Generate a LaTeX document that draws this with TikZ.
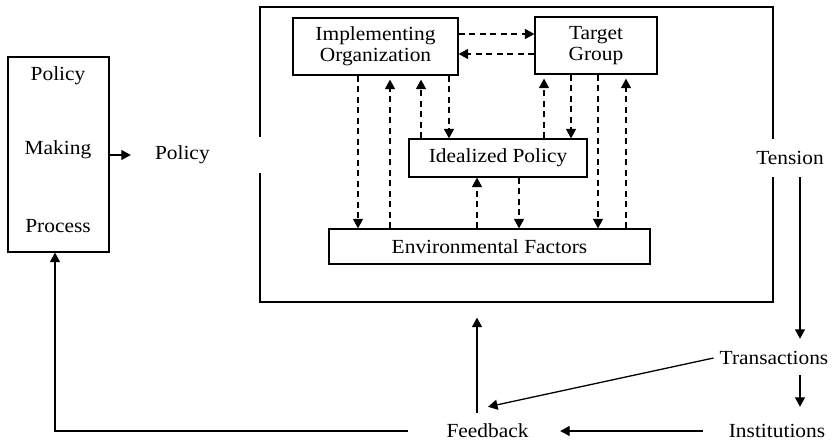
\documentclass[tikz,border=0pt]{standalone}
\usepackage{fontspec}
\setmainfont{Liberation Serif}[FakeStretch=1.07]
\usetikzlibrary{arrows.meta}

\begin{document}
\begin{tikzpicture}[x=1pt,y=-1pt,
  every node/.style={font=\fontsize{20}{21}\selectfont},
  box/.style={draw, line width=1.2pt, inner sep=0pt, align=center},
  gap/.style={fill=white, inner sep=0pt},
  link/.style={line width=1.3pt, -{Triangle[length=9.5pt,width=10pt]}},
  dlink/.style={link, dash pattern=on 6pt off 4.5pt},
]
\useasboundingbox (0,0) rectangle (832,443);

% outer frame of the implementation process
\node[box, minimum width=513pt, minimum height=295pt] (frame) at (516.5,154.5) {};

% policy making process
\node[box, minimum width=101pt, minimum height=195pt] (ppm) at (58.5,154.5) {};
\node (ppm1) at (58,76) {Policy};
\node (ppm2) at (58,150) {Making};
\node (ppm3) at (58,226) {Process};

% labels that break the frame
\node[gap, minimum height=36pt, text width=124pt, align=left] (pol) at (200,155) {\hspace*{17pt}Policy};
\node[gap, minimum width=76pt, minimum height=38pt] (ten) at (790,158) {Tension};

% inner boxes
\node[box, minimum width=165pt, minimum height=57pt] (io) at (375.5,46.5) {Implementing\\Organization};
\node[box, minimum width=122pt, minimum height=57pt] (tg) at (596,45.5) {Target\\Group};
\node[box, minimum width=178pt, minimum height=38pt] (ip) at (498,158) {Idealized Policy};
\node[box, minimum width=321pt, minimum height=35pt] (ef) at (489.5,246.5) {Environmental Factors};

% lower loop
\node[gap, inner xsep=6pt, minimum height=34pt] (trn) at (774,358) {Transactions};
\node[inner sep=0pt, minimum height=44pt] (ins) at (777,431) {Institutions};
\node[gap, minimum width=145pt, minimum height=36pt] (fb) at (487.5,431) {Feedback};

% solid connectors
\draw[link, shorten >=7pt] (ppm.east |- pol.west) -- (pol.west);
\draw[link, shorten >=2pt] ([xshift=10pt]ten.south) -- ([xshift=10pt]ten.south |- trn.north);
\draw[link, shorten >=2pt] ([xshift=26pt]trn.south) -- ([xshift=26pt]trn.south |- ins.north);
\draw[link, shorten <=26pt] (ins.west) -- (fb.east);
\draw[link] (trn.west) -- ([xshift=0.5pt,yshift=6pt]fb.north);
\draw[link, shorten >=15pt] ([xshift=-10.5pt]fb.north) -- ([xshift=-10.5pt]fb.north |- frame.south);
\draw[link, shorten <=7pt] (fb.west) -| ([xshift=-3.5pt]ppm.south);

% dashed links between organization and target group
\draw[dlink] ([yshift=12.5pt]io.east) -- ([yshift=12.5pt]io.east -| tg.west);
\draw[dlink] ([yshift=-8.5pt]tg.west) -- ([yshift=-8.5pt]tg.west -| io.east);

% dashed links below the implementing organization
\draw[dlink] ([xshift=-17.5pt]io.south) -- ([xshift=-17.5pt]io.south |- ef.north);
\draw[dlink, shorten >=4pt] ([xshift=14.5pt]io.south |- ef.north) -- ([xshift=14.5pt]io.south);
\draw[dlink, shorten >=4pt] ([xshift=45.5pt]io.south |- ip.north) -- ([xshift=45.5pt]io.south);
\draw[dlink] ([xshift=73.5pt]io.south) -- ([xshift=73.5pt]io.south |- ip.north);

% dashed links below the target group
\draw[dlink, shorten >=4pt] ([xshift=-52pt]tg.south |- ip.north) -- ([xshift=-52pt]tg.south);
\draw[dlink] ([xshift=-25pt]tg.south) -- ([xshift=-25pt]tg.south |- ip.north);
\draw[dlink] ([xshift=2pt]tg.south) -- ([xshift=2pt]tg.south |- ef.north);
\draw[dlink, shorten >=4pt] ([xshift=30pt]tg.south |- ef.north) -- ([xshift=30pt]tg.south);

% dashed links between idealized policy and environment
\draw[dlink] ([xshift=-21pt]ip.south |- ef.north) -- ([xshift=-21pt]ip.south);
\draw[dlink] ([xshift=21pt]ip.south) -- ([xshift=21pt]ip.south |- ef.north);
\end{tikzpicture}
\end{document}
